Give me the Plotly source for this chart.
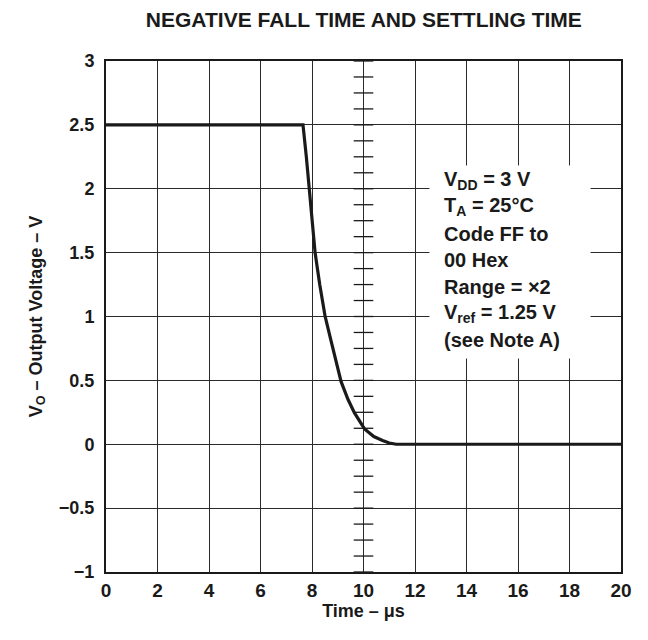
import plotly.graph_objects as go

# Data
time_us = [0, 7.65, 7.78, 7.9, 8.12, 8.3, 8.51, 8.74, 8.95, 9.13, 9.4, 9.65, 10.04, 10.4, 10.74, 11.0, 11.27, 20]
vout = [2.5, 2.5, 2.25, 2.0, 1.5, 1.25, 1.0, 0.81, 0.63, 0.49, 0.35, 0.245, 0.12, 0.06, 0.03, 0.01, 0.0, 0.0]

x_ticks = [0, 2, 4, 6, 8, 10, 12, 14, 16, 18, 20]
y_ticks = [-1, -0.5, 0, 0.5, 1, 1.5, 2, 2.5, 3]
y_tick_labels = ["\u22121", "\u22120.5", "0", "0.5", "1", "1.5", "2", "2.5", "3"]

# minor division marks on the centre vertical line
center_x = 10
minor_y = [-1 + 0.125 * i for i in range(33)]

note_lines = [
    "V<sub>DD</sub> = 3 V",
    "T<sub>A</sub> = 25\u00b0C",
    "Code FF to",
    "00 Hex",
    "Range = \u00d72",
    "V<sub>ref</sub> = 1.25 V",
    "(see Note A)",
]

FONT = "Liberation Sans, Arial, sans-serif"
INK = "#1a1a1a"

fig = go.Figure()

fig.add_trace(go.Scatter(
    x=[center_x] * len(minor_y), y=minor_y, mode="markers",
    marker=dict(symbol="line-ew", size=14, line=dict(width=1.3, color=INK)),
    hoverinfo="skip", showlegend=False,
))

fig.add_trace(go.Scatter(
    x=time_us, y=vout, mode="lines",
    line=dict(color=INK, width=3.2), showlegend=False,
))

# white box behind the note
fig.add_annotation(
    x=12.53, y=2.184, xref="x", yref="y", xanchor="left", yanchor="top",
    text=" ", width=158, height=190, bgcolor="white", showarrow=False,
)

line_y0 = 2.067
line_step = 0.2087
for i, t in enumerate(note_lines):
    fig.add_annotation(
        x=13.05, y=line_y0 - i * line_step, xref="x", yref="y",
        xanchor="left", yanchor="middle", text="<b>" + t + "</b>",
        showarrow=False, font=dict(family=FONT, size=20, color=INK),
    )

axis_common = dict(
    showgrid=True, gridcolor="#2a2a2a", gridwidth=1,
    showline=True, linecolor=INK, linewidth=2, mirror=True,
    ticks="", zeroline=False,
)

fig.update_xaxes(
    range=[0, 20], tickvals=x_ticks, ticklabelstandoff=0,
    tickfont=dict(family=FONT, size=19, color=INK, weight="bold"),
    title=dict(text="<b>Time \u2013 \u03bcs</b>", font=dict(family=FONT, size=18, color=INK), standoff=2),
    **axis_common,
)
fig.update_yaxes(
    range=[-1, 3], tickvals=y_ticks, ticktext=y_tick_labels, ticklabelstandoff=6,
    tickfont=dict(family=FONT, size=18, color=INK, weight="bold"),
    title=dict(text="<b>V<sub>O</sub> \u2013 Output Voltage \u2013 V</b>", font=dict(family=FONT, size=18, color=INK), standoff=12),
    **axis_common,
)

fig.update_layout(
    width=640, height=632,
    margin=dict(l=98, r=27, t=53, b=68),
    paper_bgcolor="white", plot_bgcolor="white",
    title=dict(text="<b>NEGATIVE FALL TIME AND SETTLING TIME</b>",
               font=dict(family=FONT, size=21, color=INK),
               x=0.556, xanchor="center", y=0.982, yanchor="middle"),
    showlegend=False,
)

fig.write_html("out.html")
